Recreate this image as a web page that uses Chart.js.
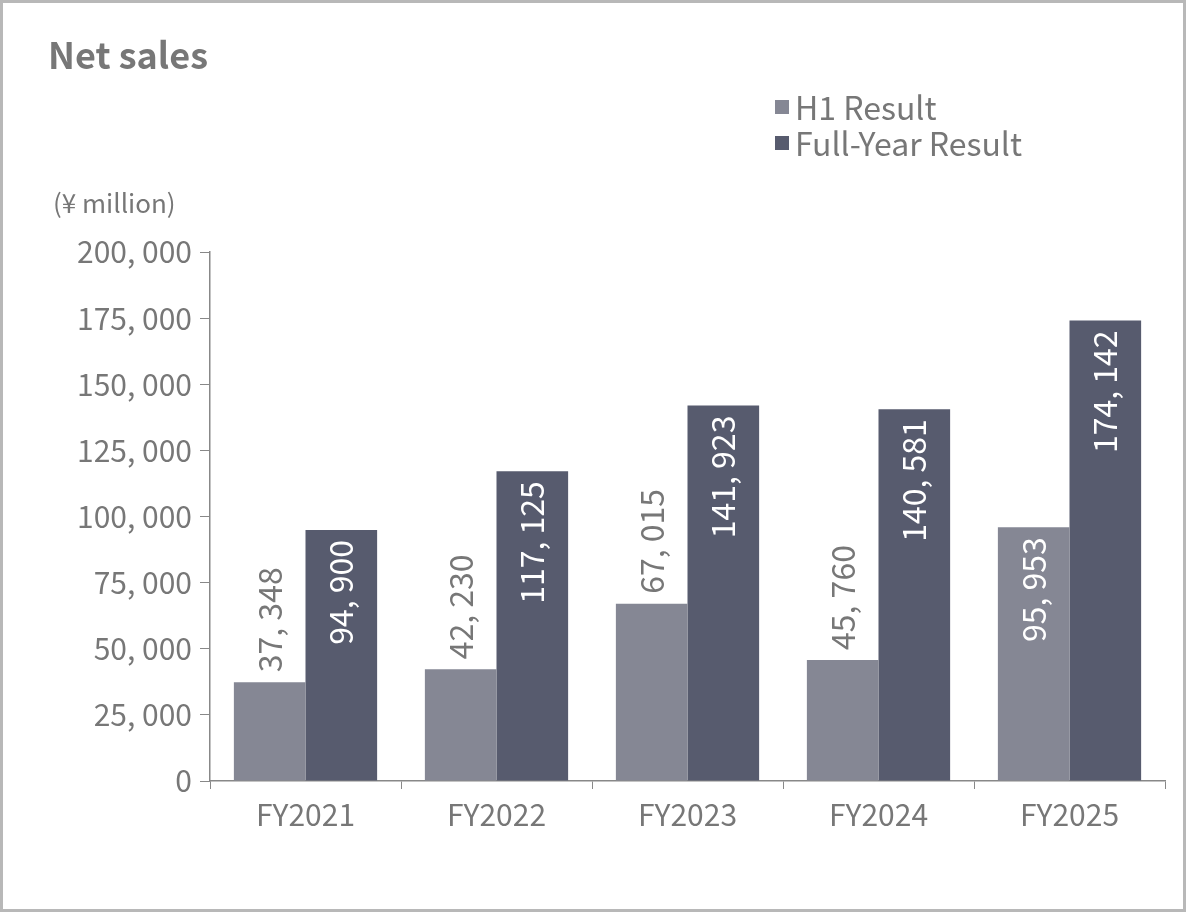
<!DOCTYPE html>
<html><head><meta charset="utf-8">
<script src="https://cdn.jsdelivr.net/npm/chart.js@4/dist/chart.umd.min.js"></script>
<style>html,body{margin:0;padding:0;background:#fff}#wrap{width:1186px;height:912px;position:relative;box-sizing:border-box;border:3px solid #b8b8b8}</style>
</head><body><div id="wrap"><canvas id="c" width="1180" height="906"></canvas></div>
<script>
const categories = ["FY2021","FY2022","FY2023","FY2024","FY2025"];
const h1Result = [37348, 42230, 67015, 45760, 95953];
const fullYearResult = [94900, 117125, 141923, 140581, 174142];
const seriesNames = ["H1 Result","Full-Year Result"];
const FONT = "'Noto Sans CJK JP', 'DejaVu Sans Mono', sans-serif";
const fmt = v => v.toLocaleString('en-US').replace(/,/g, ', ');
const TXT = '#777777';
const deco = {
  id:'deco',
  afterDraw(chart){
    const ctx = chart.ctx;
    ctx.save();
    ctx.fillStyle = TXT;
    ctx.font = "bold 36px " + FONT;
    ctx.textBaseline = 'alphabetic';
    ctx.fillText("Net sales", 45, 66);
    ctx.font = "26px " + FONT;
    ctx.fillText("(¥ million)", 50, 210);
    const cols = [chart.data.datasets[0].backgroundColor, chart.data.datasets[1].backgroundColor];
    ctx.font = "32px " + FONT;
    seriesNames.forEach((n,i)=>{
      const y = 107 + i*36;
      ctx.fillStyle = cols[i];
      ctx.fillRect(772, y-10, 14, 14);
      ctx.fillStyle = TXT;
      ctx.textBaseline = 'middle';
      ctx.fillText(n, 792, y-2);
    });
    ctx.font = "32px " + FONT;
    chart.data.datasets.forEach((ds,di)=>{
      chart.getDatasetMeta(di).data.forEach((bar,i)=>{
        const v = ds.data[i];
        const inside = di===1 || v > 90000;
        ctx.save();
        ctx.translate(bar.x, bar.y);
        ctx.rotate(-Math.PI/2);
        ctx.textBaseline = 'middle';
        if (inside){ ctx.fillStyle='#ffffff'; ctx.textAlign='right'; ctx.fillText(fmt(v), -10, 0); }
        else { ctx.fillStyle=TXT; ctx.textAlign='left'; ctx.fillText(fmt(v), 10, 0); }
        ctx.restore();
      });
    });
    ctx.restore();
  }
};
new Chart(document.getElementById('c'), {
  type:'bar',
  data:{labels:categories, datasets:[
    {label:seriesNames[0], data:h1Result, backgroundColor:'#858794', categoryPercentage:0.75, barPercentage:1},
    {label:seriesNames[1], data:fullYearResult, backgroundColor:'#575b6e', categoryPercentage:0.75, barPercentage:1}
  ]},
  options:{
    responsive:false, animation:false,
    layout:{padding:{top:249, right:18, left:0, bottom:0}},
    plugins:{legend:{display:false}, tooltip:{enabled:false}},
    scales:{
      y:{min:0,max:200000,
        ticks:{stepSize:25000, color:TXT, font:{family:FONT,size:30}, callback:v=>v.toLocaleString('en-US').replace(/,/g,', '), padding:8},
        grid:{drawOnChartArea:false, drawTicks:true, tickLength:10, color:'#888'},
        border:{color:'#888', width:1.5},
        afterFit(s){ s.width = 207; }
      },
      x:{
        ticks:{color:TXT, font:{family:FONT,size:30}, padding:8},
        grid:{drawOnChartArea:false, drawTicks:true, tickLength:8, offset:true, color:'#888'},
        border:{color:'#888', width:1.5},
        afterFit(s){ s.height = 128; }
      }
    }
  },
  plugins:[deco]
});
</script></body></html>
